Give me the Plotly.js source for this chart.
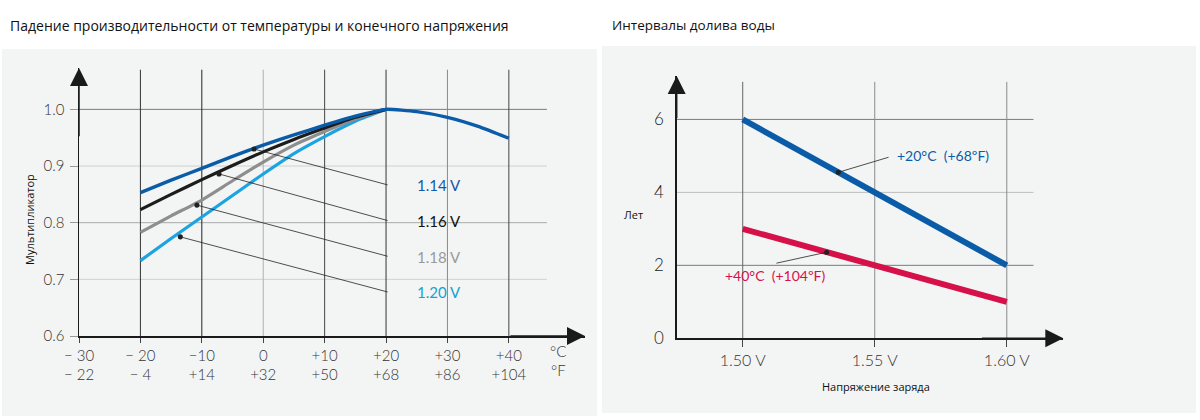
<!DOCTYPE html>
<html><head><meta charset="utf-8">
<script src="https://cdn.plot.ly/plotly-3.0.1.min.js"></script>
<style>html,body{margin:0;padding:0;background:#fff}#chart{width:1200px;height:420px}</style>
</head><body><div id="chart"></div>
<script>
// ---------- Left chart data ----------
const tempC = [-20, -15, -10, -5, 0, 5, 10, 15, 20];
const tempBlue = [-20, -15, -10, -5, 0, 5, 10, 15, 20, 25, 30, 35, 40];
const mult114 = [0.853, 0.875, 0.896, 0.917, 0.937, 0.955, 0.972, 0.988, 1.0, 0.996, 0.986, 0.970, 0.949];
const mult116 = [0.823, 0.850, 0.876, 0.901, 0.925, 0.947, 0.967, 0.986, 1.0];
const mult118 = [0.783, 0.812, 0.840, 0.874, 0.907, 0.937, 0.961, 0.983, 1.0];
const mult120 = [0.733, 0.772, 0.810, 0.848, 0.886, 0.922, 0.952, 0.979, 1.0];
const voltLabels = ["1.14 V", "1.16 V", "1.18 V", "1.20 V"];
const leaderFromX = [-1.5, -7.2, -10.8, -13.5];
const leaderFromY = [0.930, 0.886, 0.831, 0.775];
const leaderToX = [20.5, 20.5, 20.5, 20.5];
const leaderToY = [0.866, 0.803, 0.740, 0.677];
const labelX = [24.7, 24.7, 24.7, 24.7];
const xTickC = [-30, -20, -10, 0, 10, 20, 30, 40];
const xTickCText = ["\u2212 30", "\u2212 20", "\u221210", "0", "+10", "+20", "+30", "+40"];
const xTickFText = ["\u2212 22", "\u2212 4", "+14", "+32", "+50", "+68", "+86", "+104"];
const yTickL = [0.6, 0.7, 0.8, 0.9, 1.0];
const yTickLText = ["0.6", "0.7", "0.8", "0.9", "1.0"];

// ---------- Right chart data ----------
const chargeV = [1.50, 1.60];
const years20 = [6, 2];
const years40 = [3, 1];
const xTickR = [1.50, 1.55, 1.60];
const xTickRText = ["1.50 V", "1.55 V", "1.60 V"];
const yTickR = [0, 2, 4, 6];
const tempLabels = ["+20°C  (+68ºF)", "+40°C  (+104ºF)"];

// ---------- styles ----------
const cBlue = "#0b5ca8", cBlack = "#1c1c1c", cGray = "#8e8e8e", cLight = "#1ba3e2", cRed = "#d6114a";
const labelColors = ["#1458a8", "#111111", "#9a9a9a", "#14a2d2"];
const tickFont = {family: "Lato, 'Open Sans', sans-serif", size: 15, color: "#333", weight: 300};

const traces = [
  {x: tempC, y: mult120, mode: "lines", line: {color: cLight, width: 3.2, shape: "spline", smoothing: 0.6}, xaxis: "x", yaxis: "y"},
  {x: tempC, y: mult118, mode: "lines", line: {color: cGray, width: 3.2, shape: "spline", smoothing: 0.6}, xaxis: "x", yaxis: "y"},
  {x: tempC, y: mult116, mode: "lines", line: {color: cBlack, width: 3.2, shape: "spline", smoothing: 0.6}, xaxis: "x", yaxis: "y"},
  {x: tempBlue, y: mult114, mode: "lines", line: {color: cBlue, width: 3.4, shape: "spline", smoothing: 0.5}, xaxis: "x", yaxis: "y"},
  {x: chargeV, y: years20, mode: "lines", line: {color: cBlue, width: 6}, xaxis: "x2", yaxis: "y2"},
  {x: chargeV, y: years40, mode: "lines", line: {color: cRed, width: 6}, xaxis: "x2", yaxis: "y2"}
];

const shapes = [
  {type: "rect", xref: "paper", yref: "paper", x0: 2/1200, x1: 597/1200, y0: (420-416)/420, y1: (420-49)/420, fillcolor: "#f3f5f5", line: {width: 0}, layer: "below"},
  {type: "rect", xref: "paper", yref: "paper", x0: 602/1200, x1: 1196/1200, y0: (420-413)/420, y1: (420-46)/420, fillcolor: "#f3f5f5", line: {width: 0}, layer: "below"}
];
// left gridlines
const hColL = {0.7: "#cfcfcf", 0.8: "#a8a8a8", 0.9: "#cfcfcf", 1.0: "#7a7a7a"};
yTickL.slice(1).forEach(v => shapes.push({type: "line", xref: "x", yref: "y", x0: -30, x1: 46.2, y0: v, y1: v, line: {color: hColL[v], width: 1}, layer: "below"}));
const vColL = {"-20": "#333", "-10": "#222", "0": "#b0b0b0", "10": "#444", "20": "#333", "30": "#8a8a8a", "40": "#444"};
xTickC.slice(1).forEach(v => shapes.push({type: "line", xref: "x", yref: "y", x0: v, x1: v, y0: 0.6, y1: 1.07, line: {color: vColL[String(v)], width: 1}, layer: "below"}));
// right gridlines
const hColR = {2: "#7a7a7a", 4: "#bdbdbd", 6: "#7a7a7a"};
yTickR.slice(1).forEach(v => shapes.push({type: "line", xref: "x2", yref: "y2", x0: 1.475, x1: 1.6101, y0: v, y1: v, line: {color: hColR[v], width: 1}, layer: "below"}));
const vColR = ["#666", "#8a8a8a", "#8a8a8a"];
xTickR.forEach((v, i) => shapes.push({type: "line", xref: "x2", yref: "y2", x0: v, x1: v, y0: 0, y1: 7.03, line: {color: vColR[i], width: 1}, layer: "below"}));

const ann = [];
function arrow(xr, yr, x, y, ax, ay) {
  ann.push({xref: xr, yref: yr, axref: xr, ayref: yr, x: x, y: y, ax: ax, ay: ay, text: "", showarrow: true,
    arrowhead: 2, arrowsize: 2.4, arrowwidth: 1.5, arrowcolor: "#1a1a1a", standoff: 0, startstandoff: 0});
}
arrow("x", "y", 52.4, 0.6, 40, 0.6);
arrow("x", "y", -30, 1.073, -30, 0.95);
arrow("x2", "y2", 1.6214, 0, 1.59, 0);
arrow("x2", "y2", 1.475, 7.19, 1.475, 6.0);

// leaders left
for (let i = 0; i < 4; i++) {
  ann.push({xref: "x", yref: "y", axref: "x", ayref: "y", x: leaderFromX[i], y: leaderFromY[i], ax: leaderToX[i], ay: leaderToY[i],
    text: "", showarrow: true, arrowhead: 6, arrowsize: 1.6, arrowwidth: 0.8, arrowcolor: "#222", standoff: 0});
  ann.push({xref: "x", yref: "y", x: labelX[i], y: leaderToY[i], text: voltLabels[i], showarrow: false, xanchor: "left", yanchor: "middle",
    font: {family: "Lato, 'Open Sans', sans-serif", size: 15, color: labelColors[i]}});
}
// °C / °F
ann.push({xref: "paper", yref: "paper", x: 558/1200, y: (420-351)/420, text: "°C", showarrow: false, xanchor: "center", yanchor: "middle", font: tickFont});
ann.push({xref: "paper", yref: "paper", x: 558/1200, y: (420-369.5)/420, text: "°F", showarrow: false, xanchor: "center", yanchor: "middle", font: tickFont});

// right leaders
ann.push({xref: "x2", yref: "y2", axref: "x2", ayref: "y2", x: 1.5362, y: 4.55, ax: 1.5558, ay: 4.975, text: "", showarrow: true,
  arrowhead: 6, arrowsize: 1.6, arrowwidth: 0.8, arrowcolor: "#222", standoff: 0});
ann.push({xref: "x2", yref: "y2", x: 1.5577, y: 5.02, text: tempLabels[0], showarrow: false, xanchor: "left", yanchor: "middle",
  font: {family: "Lato, 'Open Sans', sans-serif", size: 14, color: cBlue}});
ann.push({xref: "x2", yref: "y2", axref: "x2", ayref: "y2", x: 1.5318, y: 2.36, ax: 1.5122, ay: 2.05, text: "", showarrow: true,
  arrowhead: 6, arrowsize: 1.6, arrowwidth: 0.8, arrowcolor: "#222", standoff: 0});
ann.push({xref: "x2", yref: "y2", x: 1.5122, y: 1.715, text: tempLabels[1], showarrow: false, xanchor: "center", yanchor: "middle",
  font: {family: "Lato, 'Open Sans', sans-serif", size: 14, color: cRed}});

// axis titles and chart titles
const smallFont = {family: "'Open Sans', sans-serif", size: 11, color: "#111"};
ann.push({xref: "paper", yref: "paper", x: 29/1200, y: (420-220)/420, text: "Мультипликатор", textangle: -90, showarrow: false, xanchor: "center", yanchor: "middle", font: smallFont});
ann.push({xref: "paper", yref: "paper", x: 633/1200, y: (420-214)/420, text: "Лет", showarrow: false, xanchor: "center", yanchor: "middle", font: smallFont});
ann.push({xref: "paper", yref: "paper", x: 876/1200, y: (420-386.5)/420, text: "Напряжение заряда", showarrow: false, xanchor: "center", yanchor: "middle", font: smallFont});
const titleFont = {family: "'Open Sans', sans-serif", size: 14, color: "#111"};
ann.push({xref: "paper", yref: "paper", x: 8/1200, y: (420-25)/420, text: "Падение производительности от температуры и конечного напряжения", showarrow: false, xanchor: "left", yanchor: "middle", font: titleFont});
ann.push({xref: "paper", yref: "paper", x: 610/1200, y: (420-25)/420, text: "Интервалы долива воды", showarrow: false, xanchor: "left", yanchor: "middle", font: {family: titleFont.family, size: 13.5, color: "#111"}});

const layout = {
  width: 1200, height: 420, autosize: false,
  margin: {l: 0, r: 0, t: 0, b: 0},
  paper_bgcolor: "#ffffff", plot_bgcolor: "rgba(0,0,0,0)",
  showlegend: false,
  xaxis: {domain: [79/1200, 585/1200], range: [-30, 52.4], showgrid: false, zeroline: false,
    showline: true, linecolor: "#1a1a1a", linewidth: 1.5,
    tickmode: "array", tickvals: xTickC, ticktext: xTickC.map((v, i) => xTickCText[i] + "<br>" + xTickFText[i]),
    ticks: "outside", ticklen: 5, tickcolor: "#444", tickfont: tickFont, fixedrange: true},
  yaxis: {domain: [0.2, (420-68)/420], range: [0.6, 1.073], showgrid: false, zeroline: false,
    showline: true, linecolor: "#1a1a1a", linewidth: 1.5,
    tickmode: "array", tickvals: yTickL, ticktext: yTickLText,
    ticks: "outside", ticklen: 8, tickcolor: "#999", tickfont: tickFont, ticklabelstandoff: 2, fixedrange: true},
  xaxis2: {domain: [676.7/1200, 1063.3/1200], range: [1.475, 1.6214], anchor: "y2", showgrid: false, zeroline: false,
    showline: true, linecolor: "#1a1a1a", linewidth: 1.5,
    tickmode: "array", tickvals: xTickR, ticktext: xTickRText,
    ticks: "outside", ticklen: 7, tickcolor: "#444", tickfont: {family: tickFont.family, size: 16, color: "#333", weight: 300}, fixedrange: true},
  yaxis2: {domain: [(420-338.3)/420, (420-76)/420], range: [0, 7.19], anchor: "x2", showgrid: false, zeroline: false,
    showline: true, linecolor: "#1a1a1a", linewidth: 1.5,
    tickmode: "array", tickvals: yTickR, ticktext: yTickR.map(String),
    ticks: "", tickfont: {family: tickFont.family, size: 17, color: "#222", weight: 300}, ticklabelstandoff: 8, fixedrange: true},
  shapes: shapes,
  annotations: ann
};
Plotly.newPlot("chart", traces, layout, {displayModeBar: false, staticPlot: true});
</script></body></html>
